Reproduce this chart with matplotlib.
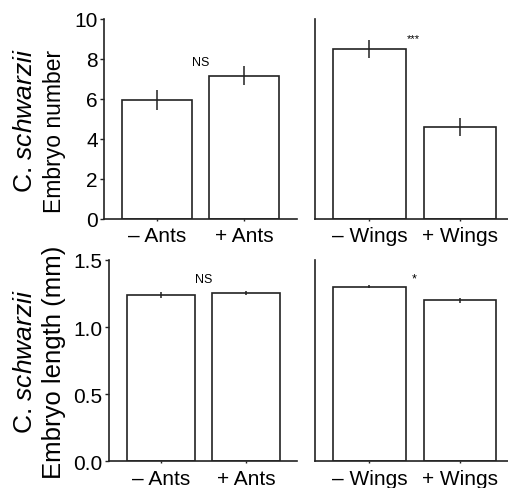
import numpy as np
import matplotlib
matplotlib.use("Agg")
import matplotlib.pyplot as plt

plt.rcParams['font.family'] = ['Liberation Sans', 'DejaVu Sans']
plt.rcParams['mathtext.fontset'] = 'custom'
plt.rcParams['mathtext.rm'] = 'Liberation Sans'
plt.rcParams['mathtext.it'] = 'Liberation Sans:italic'

# data
ant_labels = ['\u2013 Ants', '+ Ants']
wing_labels = ['\u2013 Wings', '+ Wings']

ants_number = [5.95, 7.15]
ants_number_err = [0.5, 0.48]
wings_number = [8.5, 4.6]
wings_number_err = [0.45, 0.45]

ants_length = [1.24, 1.255]
ants_length_err = [0.02, 0.015]
wings_length = [1.30, 1.20]
wings_length_err = [0.012, 0.02]

species = r'C. $\mathit{schwarzii}$'

W, H = 508, 489
fig = plt.figure(figsize=(W / 100, H / 100), dpi=100)


def box(l, r, t, b):
    # pixel box -> figure fraction
    return [l / W, 1 - b / H, (r - l) / W, (b - t) / H]


def panel(rect, vals, errs, labels, ylim, xlim, yticks=None, yticklabels=None):
    ax = fig.add_axes(rect)
    x = np.arange(len(vals))
    ax.bar(x, vals, width=0.8, color='white', edgecolor='#222222', linewidth=1.2, zorder=2)
    ax.errorbar(x, vals, yerr=errs, fmt='none', ecolor='#222222', elinewidth=1.1, capsize=0, zorder=3)
    ax.set_xlim(*xlim)
    ax.set_ylim(*ylim)
    ax.set_xticks(x)
    ax.set_xticklabels(labels, fontsize=15)
    ax.tick_params(axis='x', length=1.5, width=1, pad=4, color='#222222')
    for s in ['top', 'right']:
        ax.spines[s].set_visible(False)
    for s in ['left', 'bottom']:
        ax.spines[s].set_linewidth(1.2)
        ax.spines[s].set_color('#222222')
    if yticks is None:
        ax.set_yticks([])
    else:
        ax.set_yticks(yticks)
        ax.set_yticklabels(yticklabels, fontsize=15)
        ax.tick_params(axis='y', length=3, width=1, pad=1.5, color='#222222')
    return ax


ax1 = panel(box(104, 297, 19.5, 219.5), ants_number, ants_number_err, ant_labels,
            (0, 10), (-0.6, 1.6), [0, 2, 4, 6, 8, 10], ['0', '2', '4', '6', '8', '10'])
ax2 = panel(box(315, 508, 19.5, 219.5), wings_number, wings_number_err, wing_labels,
            (0, 10), (-0.6, 1.53))
ax3 = panel(box(109, 297, 261, 462.3), ants_length, ants_length_err, ant_labels,
            (0, 1.5), (-0.61, 1.6), [0, 0.5, 1.0, 1.5], ['0.0', '0.5', '1.0', '1.5'])
ax4 = panel(box(315, 508, 261, 462.3), wings_length, wings_length_err, wing_labels,
            (0, 1.5), (-0.6, 1.53))

ax1.text(0.5, 7.8, 'NS', fontsize=9, ha='center', va='center')
ax2.text(0.48, 9.0, '***', fontsize=8, ha='center', va='center')
ax3.text(0.5, 1.36, 'NS', fontsize=9, ha='center', va='center')
ax4.text(0.5, 1.36, '*', fontsize=9, ha='center', va='center')


def ylab(xpx, ypx, s, size):
    # rotated label anchored at the middle of its baseline
    fig.text(xpx / W, 1 - ypx / H, s, rotation=90, rotation_mode='anchor',
             fontsize=size, ha='center', va='baseline')


ylab(32, 121, species, 19)
ylab(61, 131.5, 'Embryo number', 16.5)
ylab(32, 362, species, 19)
ylab(61, 362, 'Embryo length (mm)', 18.5)

fig.savefig('out.png', dpi=100)
